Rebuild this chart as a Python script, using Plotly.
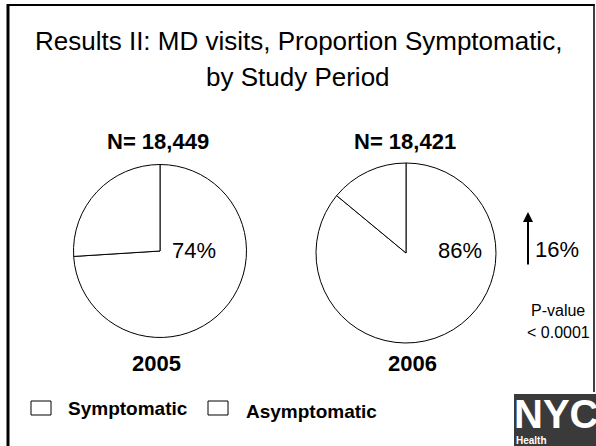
import plotly.graph_objects as go

W, H = 596, 446

# ---- data ----
years = ["2005", "2006"]
n_visits = [18449, 18421]
labels = ["Symptomatic", "Asymptomatic"]
symptomatic_pct = [74, 86]
asymptomatic_pct = [26, 14]
increase_pct = 16
p_value_lines = ["P-value", "< 0.0001"]
title_lines = ["Results II: MD visits, Proportion Symptomatic,", "by Study Period"]

FONT = "Arial, Liberation Sans, sans-serif"


def px(x):
    return x / W


def py(y):
    return 1 - y / H


# pie geometry (pixel centres and radii)
pie_cx = [160, 406]
pie_cy = [251, 253]
pie_r = [86.5, 90]

fig = go.Figure()
for i in range(2):
    cx, cy, r = pie_cx[i], pie_cy[i], pie_r[i]
    fig.add_trace(go.Pie(
        labels=labels,
        values=[symptomatic_pct[i], asymptomatic_pct[i]],
        sort=False,
        direction="clockwise",
        rotation=0,
        textinfo="none",
        hoverinfo="label+percent",
        marker=dict(colors=["white", "white"], line=dict(color="black", width=1)),
        domain=dict(x=[px(cx - r), px(cx + r)], y=[py(cy + r), py(cy - r)]),
        showlegend=False,
        name=years[i],
    ))

ann = []
# title
ann.append(dict(text=title_lines[0], x=px(298), y=py(41), font=dict(size=26)))
ann.append(dict(text=title_lines[1], x=px(298), y=py(77), font=dict(size=26)))
n_x = [158, 405]
yr_x = [156, 412]
pct_x = [194, 460]
for i in range(2):
    ann.append(dict(text=f"<b>N= {n_visits[i]:,}</b>", x=px(n_x[i]), y=py(141), font=dict(size=22)))
    ann.append(dict(text=f"<b>{years[i]}</b>", x=px(yr_x[i]), y=py(363), font=dict(size=22)))
    ann.append(dict(text=f"{symptomatic_pct[i]}%", x=px(pct_x[i]), y=py(251), font=dict(size=22)))
ann.append(dict(text=f"{increase_pct}%", x=px(557), y=py(250), font=dict(size=22)))
ann.append(dict(text=p_value_lines[0], x=px(558), y=py(310), font=dict(size=16)))
ann.append(dict(text=p_value_lines[1], x=px(558), y=py(332), font=dict(size=16)))
# legend texts
leg_text_x = [66, 244]
leg_text_y = [408, 411]
for i in range(2):
    ann.append(dict(text=f"<b>{labels[i]}</b>", x=px(leg_text_x[i]), y=py(leg_text_y[i]),
                    xanchor="left", font=dict(size=19)))
for a in ann:
    a.setdefault("xanchor", "center")
    a.update(xref="paper", yref="paper", showarrow=False, yanchor="middle")
    a["font"].update(family=FONT, color="black")

# up arrow
ann.append(dict(x=px(528), y=py(212), ax=0, ay=54, xref="paper", yref="paper", text="",
                showarrow=True, arrowhead=2, arrowsize=1, arrowwidth=2, arrowcolor="black"))

# logo
ann.append(dict(text="<b>NYC</b>", x=px(512), y=py(414), xref="paper", yref="paper", showarrow=False,
                xanchor="left", yanchor="middle", font=dict(family=FONT, size=40, color="white")))
ann.append(dict(text="<b>Health</b>", x=px(514), y=py(440), xref="paper", yref="paper", showarrow=False,
                xanchor="left", yanchor="middle", font=dict(family=FONT, size=10, color="white")))

shapes = [
    dict(type="rect", xref="paper", yref="paper", x0=px(514), x1=px(600), y0=py(394), y1=py(450),
         fillcolor="#3a3a3a", line=dict(width=0), layer="below"),
    dict(type="line", xref="paper", yref="paper", x0=px(7), x1=px(594.5), y0=py(5), y1=py(5),
         line=dict(color="black", width=2)),
    dict(type="line", xref="paper", yref="paper", x0=px(8), x1=px(8), y0=py(4), y1=py(460),
         line=dict(color="black", width=3)),
    dict(type="line", xref="paper", yref="paper", x0=px(594), x1=px(594), y0=py(4), y1=py(392),
         line=dict(color="black", width=1.5)),
]
# legend boxes
leg_box_x = [31, 208]
for bx in leg_box_x:
    shapes.append(dict(type="rect", xref="paper", yref="paper", x0=px(bx), x1=px(bx + 20),
                       y0=py(415), y1=py(401), fillcolor="white", line=dict(color="black", width=1)))

fig.update_layout(
    width=W, height=H,
    margin=dict(l=0, r=0, t=0, b=0),
    paper_bgcolor="white", plot_bgcolor="white",
    annotations=ann, shapes=shapes,
    showlegend=False,
)

fig.write_html("out.html", config={"displayModeBar": False},
               post_script="document.body.style.margin='0';")
